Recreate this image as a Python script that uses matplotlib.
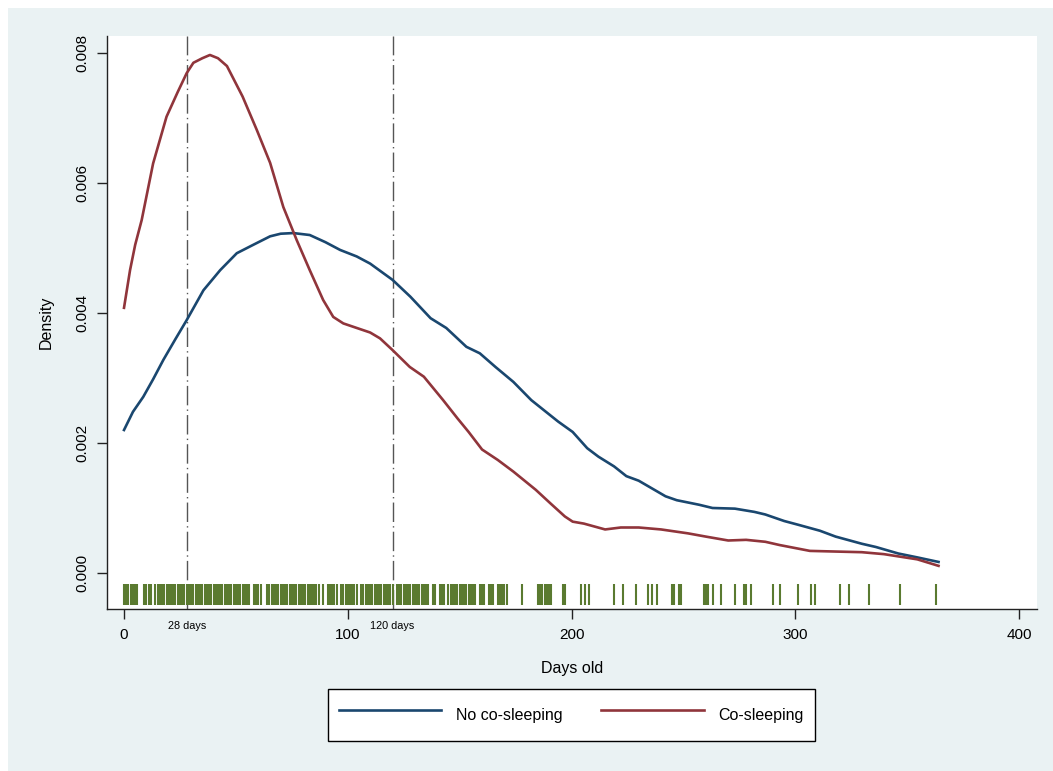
import matplotlib
matplotlib.use("Agg")
import matplotlib.pyplot as plt
from matplotlib.patches import Rectangle
from matplotlib.ticker import FormatStrFormatter
import matplotlib.transforms as mtransforms

plt.rcParams["font.family"] = ["Liberation Sans", "DejaVu Sans"]

# kernel density, no co-sleeping
blue_days = [0, 4, 8.6, 13, 17.6, 23, 28, 35.5, 43, 50.4, 57.8, 65.3, 70, 75.7,
             83, 90, 96.6, 104, 110, 114.4, 120, 128, 137, 144, 153, 159, 166,
             174, 182, 194, 200.5, 207, 212, 219, 224.5, 230, 242, 247, 257,
             263, 273, 281.7, 286.6, 295, 301.5, 311, 318, 329.7, 336, 346,
             354.5, 364]
blue_dens = [0.00220, 0.00248, 0.00271, 0.00298, 0.00328, 0.00360, 0.00389,
             0.00435, 0.00466, 0.00492, 0.00505, 0.00518, 0.00522, 0.00523,
             0.00520, 0.00509, 0.00497, 0.00487, 0.00476, 0.00465, 0.00451,
             0.00425, 0.00392, 0.00377, 0.00348, 0.00338, 0.00317, 0.00294,
             0.00266, 0.00233, 0.00217, 0.00192, 0.00179, 0.00164, 0.00149,
             0.00142, 0.00118, 0.00112, 0.00105, 0.00100, 0.00099, 0.00094,
             0.00090, 0.00080, 0.00074, 0.00065, 0.00056, 0.00045, 0.00040,
             0.00030, 0.00024, 0.00017]

# kernel density, co-sleeping
red_days = [0, 2.7, 5, 7.9, 13, 19, 24, 28, 31, 35, 38.4, 42, 46, 53, 59.3,
            65.3, 71.2, 77.2, 83, 89, 93.5, 98, 104, 110, 114.4, 120, 127.7,
            134, 142.6, 149, 154, 160, 167, 174, 184, 190.6, 197, 200.5, 205.5,
            215, 222, 230, 240, 252, 260, 270, 278, 286.6, 293, 306.5, 318,
            329.7, 339.6, 354.5, 364]
red_dens = [0.00408, 0.00466, 0.00505, 0.00543, 0.00630, 0.00702, 0.00740,
            0.00769, 0.00785, 0.00792, 0.00797, 0.00792, 0.00780, 0.00733,
            0.00682, 0.00631, 0.00563, 0.00512, 0.00466, 0.00420, 0.00394,
            0.00384, 0.00377, 0.00370, 0.00361, 0.00343, 0.00317, 0.00302,
            0.00266, 0.00238, 0.00217, 0.00190, 0.00174, 0.00156, 0.00128,
            0.00107, 0.00087, 0.00079, 0.00076, 0.00067, 0.00070, 0.00070,
            0.00067, 0.00061, 0.00056, 0.00050, 0.00051, 0.00048, 0.00043,
            0.00034, 0.00033, 0.00032, 0.00029, 0.00021, 0.00011]

# ages in the rug
rug_days = [0, 1, 2, 3, 4, 5, 6, 9, 10, 11, 12, 14, 15, 16, 17, 18, 19, 20, 21,
            22, 23, 24, 25, 26, 27, 28, 29, 30, 31, 32, 33, 34, 35, 36, 37, 38,
            39, 40, 41, 42, 43, 44, 45, 46, 47, 48, 49, 50, 51, 52, 53, 54, 55,
            56, 58, 59, 60, 61, 64, 65, 66, 67, 68, 69, 70, 71, 72, 73, 74, 75,
            76, 77, 78, 79, 80, 81, 82, 83, 84, 85, 86, 87, 89, 91, 92, 93, 94,
            95, 97, 98, 99, 100, 101, 102, 103, 104, 106, 107, 108, 109, 110,
            111, 112, 113, 114, 115, 116, 117, 118, 119, 120, 122, 123, 124,
            125, 126, 127, 128, 129, 130, 131, 132, 133, 134, 135, 136, 138,
            139, 141, 142, 143, 145, 146, 147, 148, 149, 150, 151, 152, 153,
            154, 155, 156, 157, 159, 160, 161, 163, 164, 165, 167, 168, 169,
            170, 171, 178, 185, 186, 187, 188, 189, 190, 191, 196, 197, 204,
            206, 208, 219, 223, 229, 234, 236, 238, 245, 246, 248, 249, 259,
            260, 261, 263, 267, 273, 277, 278, 280, 290, 293, 301, 307, 309,
            320, 324, 333, 347, 363]

cutoffs = [28, 120]
cutoff_labels = ["28 days", "120 days"]

fig = plt.figure(figsize=(10.53, 7.71), dpi=100, facecolor="white")
fig.patches.append(Rectangle((8 / 1053, 0), 1, 763 / 771, transform=fig.transFigure,
                             facecolor="#eaf2f3", edgecolor="none", zorder=-10))

ax = fig.add_axes([107 / 1053, 162 / 771, 930 / 1053, 573 / 771])
ax.set_facecolor("white")

ax.plot(blue_days, blue_dens, color="#1a476f", lw=1.9, label="No co-sleeping", zorder=3)
ax.plot(red_days, red_dens, color="#90353b", lw=1.9, label="Co-sleeping", zorder=3)
ax.vlines(rug_days, -0.000488, -0.000169, color="#5a7a30", lw=1.5, zorder=2)

for c in cutoffs:
    ax.axvline(c, color="#555555", lw=1.0, dashes=(14, 3, 1, 3), zorder=1)

trans = mtransforms.blended_transform_factory(ax.transData, ax.transAxes)
for c, lab in zip(cutoffs, cutoff_labels):
    ax.text(c, -0.030, lab, transform=trans, ha="center", va="center", fontsize=7.8)

ax.set_xlim(-7.6, 408.0)
ax.set_ylim(-0.000554, 0.008262)
ax.set_xticks([0, 100, 200, 300, 400])
ax.set_yticks([0, 0.002, 0.004, 0.006, 0.008])
ax.yaxis.set_major_formatter(FormatStrFormatter("%.3f"))

for s in ["top", "right"]:
    ax.spines[s].set_visible(False)
for s in ["left", "bottom"]:
    ax.spines[s].set_color("#222222")
    ax.spines[s].set_linewidth(1.0)

ax.tick_params(axis="x", length=7.5, width=1, color="#222222", pad=6, labelsize=11)
ax.tick_params(axis="y", length=7.5, width=1, color="#222222", pad=5, labelsize=11)
for t in ax.get_yticklabels():
    t.set_rotation(90)
    t.set_va("center")

ax.set_xlabel("Days old", fontsize=11.5, va="center")
ax.xaxis.set_label_coords(0.5, -0.1047)
ax.set_ylabel("Density", fontsize=11.5, va="center")
ax.yaxis.set_label_coords(-0.0648, 0.5)

leg = fig.legend(loc="center", bbox_to_anchor=(571.5 / 1053, 56 / 771), ncol=2,
                 fontsize=11.5, handlelength=6.4, handletextpad=0.95,
                 handleheight=2.4, columnspacing=2.4, borderpad=0.7,
                 fancybox=False, framealpha=1)
leg.get_frame().set_edgecolor("black")
leg.get_frame().set_linewidth(1.0)

fig.savefig("out.png", dpi=100, facecolor=fig.get_facecolor())
